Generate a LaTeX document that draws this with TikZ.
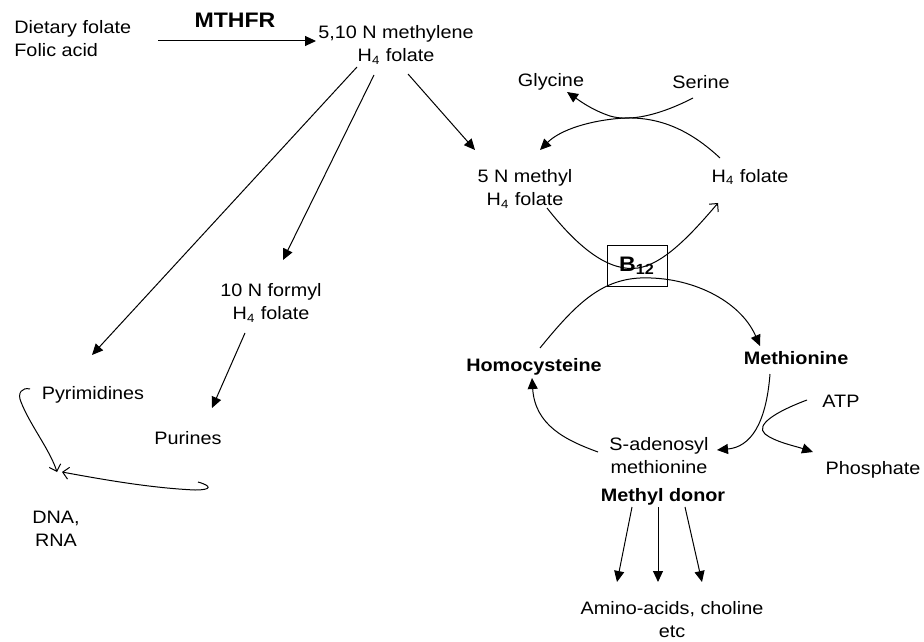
\documentclass[tikz,border=0pt]{standalone}
\usepackage{fontspec}
\setmainfont{Liberation Sans}[FakeStretch=1.1]
\usetikzlibrary{arrows.meta}

\tikzset{
  lbl/.style={align=center, inner sep=1pt},
  bold/.style={lbl, font=\bfseries},
  arr/.style={-{Triangle[length=5.5pt,width=5pt]}, line width=0.5pt},
  barb/.style={-{Straight Barb[length=3pt,width=6pt]}, line width=0.5pt},
}

\begin{document}
\fontsize{9}{11.5}\selectfont
\begin{tikzpicture}[x=0.5pt, y=-0.5pt]
    \useasboundingbox (0,0) rectangle (924,641);

    % Entrada de folato
    \node[lbl, align=left, anchor=west] (diet) at (12,39) {Dietary folate\\Folic acid};
    \node[bold, font=\fontsize{10.5}{12}\selectfont\bfseries] (mthfr) at (235,20) {MTHFR};
    \node[lbl] (methylene) at (396,45) {5,10 N methylene\\H\textsubscript{4} folate};
    \draw[arr] ([shift={(25,2)}]diet.east) -- ([shift={(0,-4)}]methylene.west);

    % Ramas hacia DNA / RNA
    \node[lbl] (formyl) at (271,303) {10 N formyl\\H\textsubscript{4} folate};
    \node[lbl] (pyrim) at (93,395) {Pyrimidines};
    \node[lbl] (purines) at (188,438) {Purines};
    \node[lbl] (dna) at (56,529) {DNA,\\RNA};
    \draw[arr] ([shift={(-39,22)}]methylene.center) -- ([shift={(-1,-40)}]pyrim.center);
    \draw[arr] ([shift={(-22,30)}]methylene.center) -- ([shift={(12,-43)}]formyl.center);
    \draw[arr] ([shift={(-26,30)}]formyl.center) -- ([shift={(24,-30)}]purines.center);
    \draw[barb] ([shift={(-63,-6)}]pyrim.center) .. controls (22,387) and (17,393) .. (21,402)
        .. controls (30,425) and (50,450) .. ([shift={(1,-57)}]dna.center);
    \draw[barb] ([shift={(10,44)}]purines.center) .. controls (212,486) and (212,490) .. (195,490)
        .. controls (150,488) and (100,479) .. ([shift={(6,-57)}]dna.center);

    % Ciclo del folato
    \node[lbl] (glycine) at (551,82) {Glycine};
    \node[lbl] (serine) at (701,82) {Serine};
    \node[lbl] (methyl5) at (525,189) {5 N methyl\\H\textsubscript{4} folate};
    \node[lbl] (hfol) at (750,177) {H\textsubscript{4} folate};
    \draw[arr] ([shift={(12,29)}]methylene.center) -- ([shift={(-50,-39)}]methyl5.center);
    \draw[arr] ([shift={(-8,16)}]serine.center) .. controls (660,115) and (630,122) .. (610,116)
        .. controls (592,110) and (580,101) .. ([shift={(16,10)}]glycine.center);
    \draw[arr] ([shift={(-30,-19)}]hfol.center) .. controls (690,130) and (660,117) .. (625,118)
        .. controls (590,120) and (560,130) .. ([shift={(15,-39)}]methyl5.center);
    \draw[barb] ([shift={(22,19)}]methyl5.center) .. controls (580,250) and (610,272) .. (638,268)
        .. controls (665,264) and (695,230) .. ([shift={(-32,26)}]hfol.center);

    % Vitamina B12
    \node[draw, line width=0.5pt, minimum width=30pt, minimum height=20pt, inner sep=0pt,
        font=\fontsize{10.5}{12}\selectfont\bfseries] (b12) at (637,266) {B\textsubscript{12}};

    % Ciclo de la metionina
    \node[bold] (homocys) at (534,367) {Homocysteine};
    \node[bold] (methionine) at (796,358) {Methionine};
    \node[lbl] (sam) at (659,456) {S-adenosyl\\methionine};
    \node[bold] (mdonor) at (663,497) {Methyl donor};
    \node[lbl] (atp) at (841,401) {ATP};
    \node[lbl] (phos) at (873,470) {Phosphate};
    \node[lbl] (amino) at (672,620) {Amino-acids, choline\\etc};
    \draw[arr] ([shift={(6,-19)}]homocys.center) .. controls (575,305) and (600,280) .. (640,278)
        .. controls (690,276) and (740,300) .. ([shift={(-36,-12)}]methionine.center);
    \draw[arr] ([shift={(-26,16)}]methionine.center) .. controls (766,425) and (750,447)
        .. ([shift={(58,-6)}]sam.center);
    \draw[arr] ([shift={(-61,-4)}]sam.center) .. controls (565,440) and (535,425)
        .. ([shift={(-2,11)}]homocys.center);
    \draw[arr] ([shift={(-34,-1)}]atp.center) .. controls (775,412) and (755,425) .. (765,434)
        .. controls (775,442) and (795,446) .. ([shift={(-60,-18)}]phos.center);

    % Donador de metilo
    \draw[arr] ([shift={(-31,10)}]mdonor.center) -- ([shift={(-55,-38)}]amino.center);
    \draw[arr] ([shift={(-5,10)}]mdonor.center) -- ([shift={(-14,-38)}]amino.center);
    \draw[arr] ([shift={(22,10)}]mdonor.center) -- ([shift={(30,-38)}]amino.center);
\end{tikzpicture}
\end{document}
